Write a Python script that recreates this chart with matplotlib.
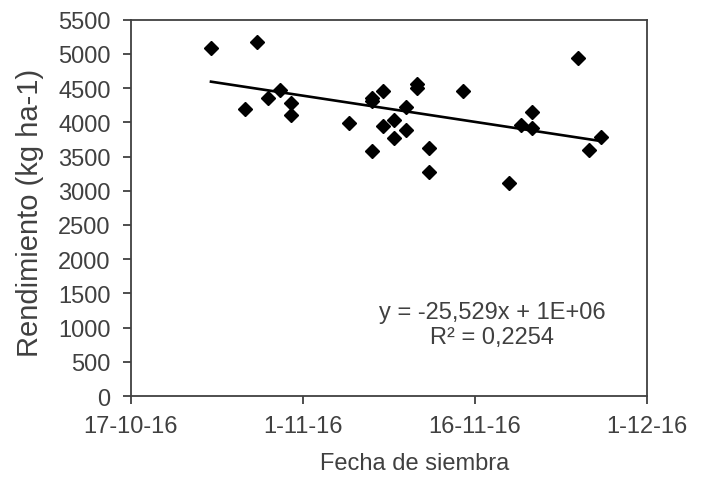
import numpy as np
import pandas as pd
import matplotlib
matplotlib.use('Agg')
import matplotlib.pyplot as plt
import matplotlib.dates as mdates

plt.rcParams['font.family'] = ['Liberation Sans', 'DejaVu Sans']

# Sowing dates and yields
fechas = ['2016-10-24', '2016-10-28', '2016-10-27', '2016-10-29', '2016-10-30',
          '2016-10-31', '2016-10-31', '2016-11-05', '2016-11-07', '2016-11-07',
          '2016-11-07', '2016-11-08', '2016-11-08', '2016-11-09', '2016-11-09',
          '2016-11-10', '2016-11-10', '2016-11-11', '2016-11-11', '2016-11-12',
          '2016-11-12', '2016-11-15', '2016-11-19', '2016-11-20', '2016-11-21',
          '2016-11-21', '2016-11-25', '2016-11-26', '2016-11-27']
rendimiento = [5080, 5170, 4200, 4360, 4470,
               4280, 4100, 3990, 4350, 4310,
               3580, 4460, 3940, 4040, 3770,
               4230, 3890, 4560, 4500, 3630,
               3270, 4460, 3110, 3960, 4150,
               3910, 4940, 3600, 3780]

# Excel trend line (x = Excel date serial); slope from the label, intercept estimated
pendiente = -25.529
ordenada = 1093840

tick_fechas = ['2016-10-17', '2016-11-01', '2016-11-16', '2016-12-01']
tick_labels = ['17-10-16', '1-11-16', '16-11-16', '1-12-16']

x = mdates.date2num(pd.to_datetime(fechas))
y = np.array(rendimiento)

# Trend line over the data range, evaluated on Excel serial days
xl = np.array([x.min(), x.max()])
yl = pendiente * (xl + 25569) + ordenada

fig = plt.figure(figsize=(7.05, 4.81), dpi=100)
ax = fig.add_axes([0.1854, 0.1746, 0.7319, 0.7824])

ax.plot(x, y, linestyle='none', marker='D', markersize=7.5, color='black')
ax.plot(xl, yl, color='black', linewidth=1.9)

ticks = mdates.date2num(pd.to_datetime(tick_fechas))
ax.set_xticks(ticks)
ax.set_xticklabels(tick_labels)
ax.set_xlim(ticks[0], ticks[-1])
ax.set_ylim(0, 5500)
ax.set_yticks(np.arange(0, 5501, 500))

for s in ax.spines.values():
    s.set_color('#404040')
    s.set_linewidth(1.3)
ax.tick_params(direction='out', length=5.5, width=1.3, color='#404040',
               labelsize=17, labelcolor='#404040')
ax.tick_params(axis='x', pad=8)
ax.tick_params(axis='y', pad=9)

ax.set_xlabel('Fecha de siembra', fontsize=17, color='#404040')
ax.set_ylabel('Rendimiento (kg ha-1)', fontsize=21, color='#404040')
ax.xaxis.set_label_coords(0.551, -0.15)
ax.yaxis.set_label_coords(-0.168, 0.49)

ax.text(0.70, 0.19, 'y = -25,529x + 1E+06\nR² = 0,2254', transform=ax.transAxes,
        ha='center', va='center', fontsize=17, color='#404040', linespacing=1.15)

fig.savefig('out.png', dpi=100)
